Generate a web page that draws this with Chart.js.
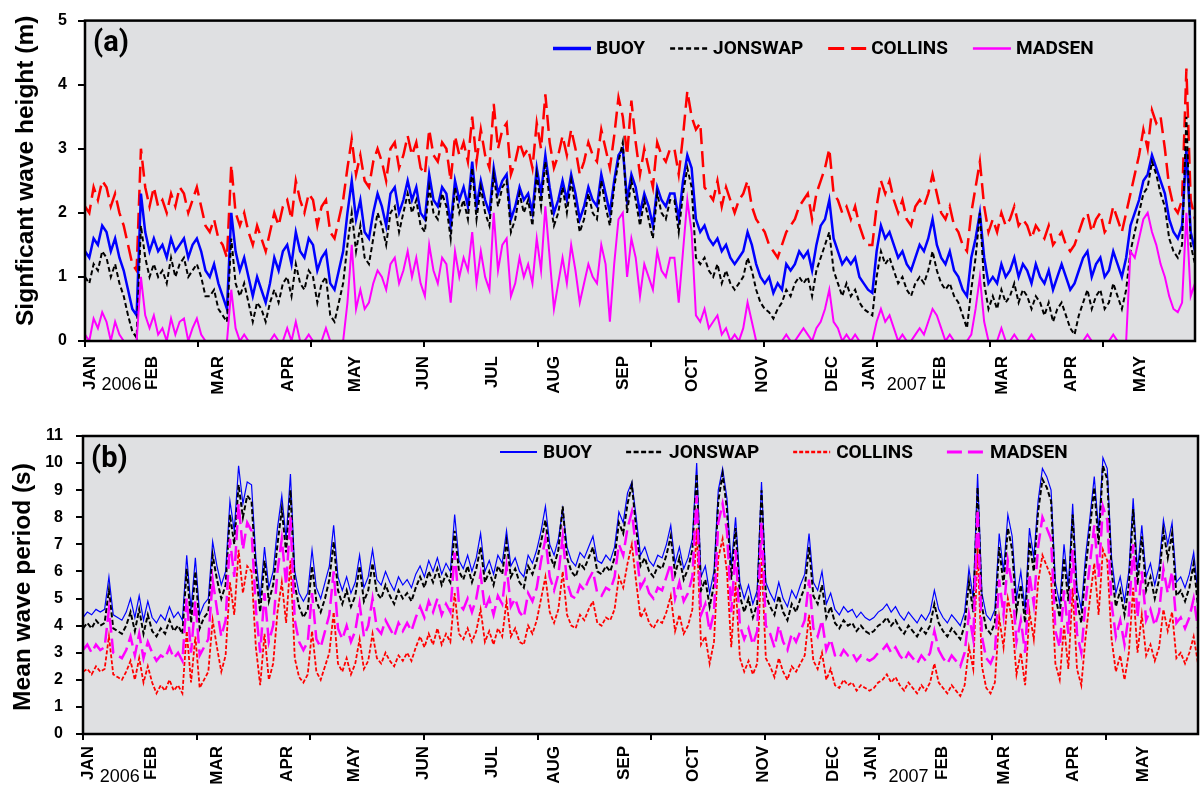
<!DOCTYPE html>
<html>
<head>
<meta charset="utf-8">
<title>Significant wave height and mean wave period, 2006–2007</title>
<script src="https://cdn.jsdelivr.net/npm/chart.js@4.4.1/dist/chart.umd.min.js"></script>
<style>
  html, body { margin: 0; padding: 0; background: #fff; }
  #wrap { position: relative; width: 1201px; height: 789px; }
  #cA { position: absolute; left: 0; top: 0; }
  #cB { position: absolute; left: 0; top: 400px; }
</style>
</head>
<body>
<div id="wrap">
  <canvas id="cA" width="1201" height="400"></canvas>
  <canvas id="cB" width="1201" height="389"></canvas>
</div>
<script>
// ---- time axis -------------------------------------------------------------
const DAY_STEP = 2;        // sampling interval of every series (days from 1 Jan 2006)
const X_MAX = 516;         // 1 Jan 2006 ... 31 May 2007
const TICK_STEP = 52.6;    // spacing of the x tick marks (days)

const monthLabels = ['JAN','FEB','MAR','APR','MAY','JUN','JUL','AUG','SEP','OCT','NOV','DEC',
                     'JAN','FEB','MAR','APR','MAY'];
const monthDays   = [2.5, 31.5, 62, 94.4, 125.7, 157.5, 189.2, 218, 250.4, 282.5, 315, 347.2,
                     364.6, 397.5, 426.5, 458.5, 490.5];
const yearLabels  = ['2006', '2007'];
const yearDays    = [17, 382];

const seriesNames = ['BUOY', 'JONSWAP', 'COLLINS', 'MADSEN'];

// ---- (a) significant wave height, m ---------------------------------------
const hsBuoy = [
  1.4, 1.3, 1.6, 1.5, 1.8, 1.7, 1.4, 1.6, 1.3, 1.1, 0.8, 0.5, 0.4, 2.3, 1.7, 1.4,   // Jan 2006
  1.6, 1.4, 1.5, 1.3, 1.6, 1.4, 1.5, 1.6, 1.3, 1.5, 1.6, 1.4, 1.1, 1.0,             // Feb
  1.2, 0.9, 0.7, 0.5, 2.0, 1.4, 1.1, 1.3, 1.0, 0.7, 1.0, 0.8, 0.6, 0.9, 1.3,        // Mar
  1.1, 1.4, 1.5, 1.2, 1.7, 1.4, 1.3, 1.6, 1.5, 1.1, 1.3, 1.4, 0.9, 0.8, 1.1,        // Apr
  1.4, 2.0, 2.5, 1.9, 2.2, 1.7, 1.6, 2.0, 2.3, 2.1, 1.8, 2.3, 2.4, 2.0, 2.2, 2.5,   // May
  2.2, 2.4, 2.0, 1.9, 2.6, 2.2, 2.1, 2.4, 2.3, 1.8, 2.5, 2.2, 2.4, 2.1, 2.8,        // Jun
  2.1, 2.5, 2.2, 2.0, 2.7, 2.3, 2.5, 2.6, 1.9, 2.1, 2.4, 2.2, 2.3, 2.0, 2.7,        // Jul
  2.3, 2.9, 2.4, 2.0, 2.2, 2.5, 2.2, 2.6, 2.3, 1.9, 2.1, 2.4, 2.2, 2.1, 2.6, 2.3,   // Aug
  2.0, 2.5, 2.9, 3.0, 2.2, 2.6, 2.4, 2.0, 2.3, 2.1, 1.8, 2.4, 2.2, 2.1, 2.3,        // Sep
  2.3, 1.9, 2.5, 2.9, 2.7, 1.9, 1.7, 1.8, 1.6, 1.5, 1.6, 1.4, 1.5, 1.3, 1.2,        // Oct
  1.3, 1.4, 1.7, 1.5, 1.2, 1.0, 0.9, 1.0, 0.75, 0.9, 0.8, 1.2, 1.1, 1.2, 1.4,       // Nov
  1.3, 1.4, 1.1, 1.5, 1.8, 1.9, 2.2, 1.6, 1.4, 1.2, 1.3, 1.2, 1.3, 1.0, 0.9, 0.8,   // Dec
  0.75, 1.4, 1.8, 1.6, 1.7, 1.5, 1.3, 1.4, 1.2, 1.1, 1.3, 1.5, 1.4, 1.6, 1.9,       // Jan 2007
  1.5, 1.3, 1.2, 1.4, 1.1, 1.0, 0.8, 0.7, 1.3, 1.6, 2.0, 1.3, 0.9, 1.0,             // Feb
  0.9, 1.2, 1.0, 1.1, 1.3, 1.0, 1.2, 1.1, 0.9, 1.2, 1.0, 0.9, 1.1, 0.8, 1.0, 1.2,   // Mar
  1.0, 0.8, 0.9, 1.1, 1.3, 1.4, 1.0, 1.2, 1.3, 1.0, 1.1, 1.4, 1.2, 1.0, 1.3,        // Apr
  1.8, 2.0, 2.2, 2.5, 2.6, 2.9, 2.7, 2.5, 2.3, 1.9, 1.7, 1.6, 1.8, 3.0, 1.7, 1.4    // May
];
const hsJonswap = [
  1.0, 0.9, 1.2, 1.1, 1.4, 1.3, 1.0, 1.2, 0.9, 0.7, 0.4, 0.15, 0.05, 1.8, 1.3, 1.0,
  1.2, 1.0, 1.1, 0.9, 1.3, 1.0, 1.2, 1.3, 1.0, 1.1, 1.2, 1.0, 0.7, 0.7,
  0.8, 0.5, 0.4, 0.3, 1.6, 0.9, 0.7, 0.9, 0.6, 0.3, 0.6, 0.5, 0.3, 0.6, 0.8,
  0.6, 0.9, 1.0, 0.7, 1.2, 0.9, 0.8, 1.1, 1.0, 0.6, 0.9, 1.0, 0.4, 0.3, 0.6,
  0.9, 1.5, 2.0, 1.4, 1.8, 1.3, 1.2, 1.6, 2.0, 1.8, 1.5, 2.0, 2.1, 1.7, 2.0, 2.3,
  2.0, 2.2, 1.8, 1.7, 2.4, 2.0, 1.9, 2.3, 2.1, 1.6, 2.4, 2.0, 2.2, 1.9, 2.7,
  1.9, 2.4, 2.0, 1.8, 2.6, 2.1, 2.4, 2.5, 1.7, 1.9, 2.3, 2.0, 2.2, 1.8, 2.6,
  2.1, 2.8, 2.2, 1.8, 2.0, 2.4, 2.0, 2.5, 2.1, 1.7, 1.9, 2.3, 2.0, 1.9, 2.5, 2.1,
  1.8, 2.4, 2.8, 3.1, 2.0, 2.5, 2.2, 1.8, 2.2, 1.9, 1.6, 2.3, 2.0, 1.9, 2.2,
  2.2, 1.7, 2.3, 2.7, 2.4, 1.3, 1.2, 1.3, 1.1, 1.0, 1.2, 0.9, 1.1, 0.9, 0.8,
  0.9, 1.0, 1.3, 1.1, 0.8, 0.6, 0.5, 0.45, 0.35, 0.5, 0.6, 0.8, 0.7, 0.9, 1.0,
  0.9, 1.0, 0.7, 1.1, 1.3, 1.5, 1.7, 1.1, 0.9, 0.7, 0.9, 0.7, 0.8, 0.6, 0.5, 0.45,
  0.4, 1.0, 1.4, 1.2, 1.3, 1.1, 0.9, 1.0, 0.8, 0.7, 0.9, 1.0, 0.9, 1.1, 1.4,
  1.1, 0.9, 0.8, 0.9, 0.7, 0.6, 0.4, 0.2, 0.8, 1.3, 2.0, 0.9, 0.5, 0.7,
  0.5, 0.8, 0.6, 0.7, 0.9, 0.6, 0.8, 0.7, 0.5, 0.7, 0.6, 0.4, 0.6, 0.3, 0.5, 0.6,
  0.4, 0.2, 0.1, 0.4, 0.6, 0.8, 0.5, 0.7, 0.8, 0.5, 0.6, 0.9, 0.7, 0.5, 0.8,
  1.4, 1.7, 2.0, 2.3, 2.4, 2.8, 2.6, 2.3, 2.1, 1.6, 1.4, 1.3, 1.5, 3.5, 1.5, 1.2
];
const hsCollins = [
  2.1, 2.0, 2.4, 2.2, 2.5, 2.4, 2.1, 2.3, 2.0, 1.8, 1.5, 1.2, 1.1, 3.0, 2.4, 2.1,
  2.4, 2.1, 2.2, 2.0, 2.3, 2.1, 2.4, 2.3, 2.0, 2.2, 2.4, 2.1, 1.8, 1.7,
  1.9, 1.6, 1.5, 1.3, 2.75, 2.0, 1.8, 2.0, 1.7, 1.5, 1.8, 1.6, 1.4, 1.7, 2.0,
  1.8, 2.1, 2.2, 1.9, 2.5, 2.2, 2.0, 2.3, 2.2, 1.8, 2.1, 2.2, 1.7, 1.6, 1.9,
  2.2, 2.7, 3.15, 2.6, 2.9, 2.5, 2.4, 2.8, 3.0, 2.8, 2.5, 3.0, 3.1, 2.7, 2.9, 3.2,
  2.9, 3.1, 2.7, 2.6, 3.3, 2.9, 2.8, 3.1, 3.0, 2.5, 3.2, 2.9, 3.1, 2.8, 3.5,
  2.8, 3.3, 2.9, 2.7, 3.7, 3.0, 3.3, 3.4, 2.6, 2.8, 3.1, 2.9, 3.0, 2.7, 3.4,
  3.0, 3.85, 3.1, 2.7, 2.9, 3.2, 2.9, 3.3, 3.0, 2.6, 2.8, 3.1, 2.9, 2.8, 3.3, 3.0,
  2.7, 3.2, 3.8, 3.5, 2.9, 3.75, 3.1, 2.6, 3.0, 2.7, 2.4, 3.1, 2.9, 2.8, 3.0,
  3.0, 2.6, 3.2, 3.9, 3.5, 3.3, 3.4, 2.4, 2.3, 2.2, 2.5, 2.1, 2.4, 2.2, 2.0,
  2.2, 2.3, 2.5, 2.1, 1.9, 1.8, 1.7, 1.5, 1.4, 1.3, 1.5, 1.7, 1.8, 1.9, 2.1,
  2.2, 2.3, 1.9, 2.3, 2.5, 2.7, 3.0, 2.3, 2.2, 2.0, 2.1, 1.9, 2.1, 1.8, 1.6, 1.5,
  1.5, 2.1, 2.5, 2.3, 2.5, 2.2, 2.0, 2.2, 1.9, 1.8, 2.1, 2.2, 2.1, 2.3, 2.6,
  2.3, 2.0, 1.9, 2.1, 1.8, 1.7, 1.5, 1.4, 2.0, 2.4, 2.8, 2.1, 1.7, 1.9,
  1.7, 2.0, 1.8, 1.9, 2.1, 1.8, 1.9, 1.8, 1.6, 1.8, 1.7, 1.6, 1.8, 1.5, 1.6, 1.7,
  1.5, 1.4, 1.5, 1.7, 1.9, 2.0, 1.7, 1.9, 2.0, 1.7, 1.8, 2.1, 1.9, 1.7, 2.0,
  2.3, 2.6, 2.9, 3.3, 3.0, 3.6, 3.4, 3.5, 3.0, 2.4, 2.1, 2.0, 2.2, 4.25, 2.2, 1.9
];
const hsMadsen = [
  0.1, 0.0, 0.35, 0.2, 0.45, 0.3, 0.0, 0.3, 0.1, 0.0, 0.0, 0.0, 0.0, 1.0, 0.4, 0.2,
  0.4, 0.1, 0.2, 0.0, 0.35, 0.1, 0.3, 0.35, 0.0, 0.2, 0.35, 0.1, 0.0, 0.0,
  0.0, 0.0, 0.0, 0.0, 0.8, 0.2, 0.0, 0.1, 0.0, 0.0, 0.0, 0.0, 0.0, 0.0, 0.1,
  0.0, 0.0, 0.2, 0.0, 0.3, 0.0, 0.0, 0.1, 0.0, 0.0, 0.0, 0.2, 0.0, 0.0, 0.0,
  0.0, 0.6, 1.5, 0.5, 0.8, 0.5, 0.6, 0.9, 1.1, 1.0, 0.8, 1.2, 1.3, 0.9, 1.1, 1.4,
  1.0, 1.3, 0.9, 0.7, 1.5, 1.1, 0.9, 1.3, 1.2, 0.6, 1.4, 1.0, 1.3, 1.1, 1.7,
  0.9, 1.4, 1.0, 0.8, 2.0, 1.1, 1.5, 1.6, 0.7, 0.9, 1.3, 1.0, 1.2, 0.9, 1.6,
  1.1, 2.1, 1.3, 0.5, 0.9, 1.3, 0.9, 1.5, 1.1, 0.6, 0.9, 1.2, 1.0, 0.9, 1.5, 1.2,
  0.3, 1.2, 1.9, 2.0, 1.0, 1.6, 1.3, 0.7, 1.2, 1.0, 0.8, 1.4, 1.1, 1.0, 1.3,
  1.3, 0.6, 1.4, 2.2, 1.7, 0.4, 0.3, 0.5, 0.2, 0.3, 0.4, 0.1, 0.2, 0.0, 0.1,
  0.0, 0.2, 0.6, 0.3, 0.0, 0.0, 0.0, 0.0, 0.0, 0.0, 0.0, 0.1, 0.0, 0.0, 0.1,
  0.2, 0.1, 0.0, 0.2, 0.3, 0.5, 0.8, 0.3, 0.2, 0.0, 0.1, 0.0, 0.1, 0.0, 0.0, 0.0,
  0.0, 0.3, 0.5, 0.3, 0.4, 0.2, 0.0, 0.1, 0.0, 0.0, 0.1, 0.2, 0.1, 0.3, 0.5,
  0.4, 0.2, 0.0, 0.1, 0.0, 0.0, 0.0, 0.0, 0.1, 0.5, 1.0, 0.3, 0.0, 0.0,
  0.0, 0.2, 0.0, 0.0, 0.1, 0.0, 0.0, 0.0, 0.1, 0.0, 0.0, 0.0, 0.0, 0.0, 0.0, 0.0,
  0.0, 0.0, 0.0, 0.0, 0.0, 0.1, 0.0, 0.0, 0.0, 0.0, 0.0, 0.1, 0.0, 0.0, 0.0,
  1.4, 1.3, 1.6, 1.9, 2.0, 1.7, 1.5, 1.2, 1.0, 0.7, 0.5, 0.45, 0.6, 2.0, 0.7, 0.9
];

// ---- (b) mean wave period, s ------------------------------------------------
const tmBuoy = [
  4.3, 4.5, 4.4, 4.6, 4.5, 4.6, 5.8, 4.4, 4.3, 4.2, 4.5, 5.0, 4.3, 5.1, 4.2, 4.9,   // Jan 2006
  4.3, 4.1, 4.4, 4.2, 4.7, 4.3, 4.5, 4.2, 6.6, 4.6, 6.5, 4.4, 4.8, 5.0,             // Feb
  7.1, 6.2, 5.5, 6.0, 8.6, 7.5, 9.9, 8.5, 9.3, 9.2, 6.5, 5.0, 6.9, 5.4, 6.0,        // Mar
  7.6, 8.8, 7.2, 9.6, 6.0, 5.2, 4.9, 5.2, 6.8, 5.4, 5.0, 5.6, 6.2, 7.7, 5.8,        // Apr
  5.3, 5.8, 5.2, 5.6, 6.6, 5.4, 5.8, 6.8, 5.7, 5.5, 6.0, 5.6, 5.3, 5.8, 5.5, 5.7,   // May
  5.4, 5.9, 6.2, 5.8, 6.4, 6.0, 6.5, 5.9, 6.3, 6.0, 8.1, 6.4, 6.1, 6.6, 6.0,        // Jun
  6.5, 7.4, 6.0, 6.4, 5.9, 6.6, 6.3, 7.5, 6.2, 6.5, 6.0, 5.8, 6.6, 6.3, 6.8,        // Jul
  7.5, 8.4, 7.0, 6.6, 7.2, 8.3, 6.9, 6.4, 6.2, 6.7, 6.5, 6.9, 7.3, 6.4, 6.3, 6.6,   // Aug
  6.4, 6.9, 8.2, 7.8, 8.9, 9.3, 8.0, 6.6, 6.9, 6.4, 6.2, 6.6, 6.5, 7.0, 7.7,        // Sep
  6.3, 6.9, 6.1, 6.5, 7.2, 10.0, 5.8, 6.2, 5.2, 6.0, 9.0, 9.8, 8.7, 6.2, 8.0,       // Oct
  5.6, 5.0, 5.5, 4.8, 5.3, 9.3, 5.6, 5.2, 4.9, 5.6, 5.0, 4.7, 5.3, 5.0, 5.5,        // Nov
  5.9, 7.4, 5.6, 5.3, 6.0, 4.8, 5.2, 4.6, 4.4, 4.7, 4.5, 4.6, 4.3, 4.5, 4.3, 4.2,   // Dec
  4.3, 4.5, 4.6, 4.8, 4.5, 4.7, 4.4, 4.2, 4.5, 4.3, 4.1, 4.4, 4.2, 4.5, 5.3,        // Jan 2007
  4.6, 4.3, 4.1, 4.4, 4.2, 4.0, 4.5, 6.1, 5.0, 9.6, 5.2, 4.4, 4.2, 4.6,             // Feb
  7.4, 6.0, 8.1, 7.3, 5.0, 6.0, 4.6, 7.6, 6.5, 8.6, 9.8, 9.5, 9.0, 5.6, 4.8, 7.0,   // Mar
  5.4, 8.5, 5.4, 4.6, 6.6, 8.0, 9.5, 7.5, 10.2, 9.8, 6.5, 5.2, 5.8, 4.9, 6.0,       // Apr
  8.7, 6.0, 7.7, 5.8, 6.3, 5.5, 6.2, 7.9, 7.0, 7.8, 5.6, 5.8, 5.4, 5.9, 6.7, 5.2    // May
];
const tmJonswap = [
  3.9, 4.1, 3.9, 4.2, 4.0, 4.1, 5.3, 3.9, 3.8, 3.7, 4.0, 4.5, 3.8, 4.6, 3.7, 4.4,
  3.8, 3.6, 3.9, 3.7, 4.2, 3.8, 4.0, 3.7, 6.1, 4.1, 6.0, 3.9, 4.3, 4.5,
  6.6, 5.7, 5.0, 5.5, 8.1, 7.0, 9.2, 8.0, 8.8, 8.6, 6.0, 4.5, 6.4, 4.9, 5.5,
  7.0, 8.3, 6.7, 9.0, 5.5, 4.7, 4.3, 4.6, 6.2, 4.9, 4.5, 5.0, 5.7, 7.1, 5.3,
  4.8, 5.3, 4.7, 5.1, 6.2, 4.9, 5.3, 6.3, 5.2, 5.0, 5.5, 5.1, 4.8, 5.3, 5.0, 5.2,
  4.9, 5.4, 5.8, 5.4, 6.0, 5.6, 6.1, 5.5, 5.9, 5.6, 7.5, 6.0, 5.7, 6.2, 5.6,
  6.1, 6.9, 5.6, 6.0, 5.5, 6.2, 5.9, 7.1, 5.8, 6.1, 5.6, 5.4, 6.2, 5.9, 6.4,
  7.1, 7.9, 6.6, 6.2, 6.8, 8.4, 6.5, 6.0, 5.8, 6.3, 6.1, 6.5, 6.9, 6.0, 5.9, 6.2,
  6.0, 6.5, 7.8, 7.4, 8.5, 9.2, 7.6, 6.2, 6.5, 6.0, 5.8, 6.2, 6.1, 6.6, 7.3,
  5.9, 6.5, 5.7, 6.1, 6.8, 9.6, 5.3, 5.7, 4.7, 5.5, 8.6, 9.6, 8.3, 5.7, 7.6,
  5.1, 4.5, 5.0, 4.3, 4.8, 9.0, 5.1, 4.7, 4.4, 5.1, 4.5, 4.2, 4.8, 4.5, 5.0,
  5.4, 6.9, 5.1, 4.8, 5.5, 4.3, 4.7, 4.1, 3.9, 4.2, 4.0, 4.1, 3.8, 4.0, 3.8, 3.7,
  3.8, 4.0, 4.1, 4.3, 4.0, 4.2, 3.9, 3.7, 4.0, 3.8, 3.6, 3.9, 3.7, 4.0, 4.8,
  4.1, 3.8, 3.6, 3.9, 3.7, 3.5, 4.0, 5.6, 4.5, 9.1, 4.7, 3.9, 3.7, 4.1,
  6.9, 5.5, 7.6, 6.8, 4.5, 5.5, 4.1, 7.1, 6.0, 8.2, 9.4, 9.1, 8.6, 5.1, 4.3, 6.5,
  4.9, 8.1, 4.9, 4.1, 6.1, 7.6, 9.1, 7.0, 9.9, 9.4, 6.0, 4.7, 5.3, 4.4, 5.5,
  8.3, 5.5, 7.3, 5.3, 5.8, 5.0, 5.7, 7.5, 6.5, 7.4, 5.1, 5.3, 4.9, 5.4, 6.3, 4.7
];
const tmCollins = [
  2.3, 2.4, 2.2, 2.5, 2.3, 2.4, 3.6, 2.2, 2.1, 2.0, 2.3, 2.7, 2.0, 2.8, 1.9, 2.5,
  1.9, 1.5, 1.8, 1.6, 2.0, 1.6, 1.8, 1.5, 3.8, 1.9, 3.6, 1.7, 2.0, 2.3,
  4.2, 3.2, 2.3, 2.9, 5.6, 4.4, 6.8, 5.2, 6.2, 6.0, 3.2, 1.8, 3.7, 2.0, 2.6,
  4.5, 5.6, 4.1, 6.4, 2.8, 2.1, 1.9, 2.2, 3.8, 2.3, 2.0, 2.5, 3.0, 4.5, 2.6,
  2.3, 2.8, 2.2, 2.6, 3.5, 2.4, 2.7, 3.7, 2.8, 2.6, 3.0, 2.7, 2.5, 2.9, 2.7, 3.0,
  2.7, 3.2, 3.6, 3.2, 3.7, 3.3, 3.9, 3.3, 3.7, 3.4, 5.2, 3.7, 3.5, 3.9, 3.4,
  3.8, 4.6, 3.4, 3.8, 3.3, 3.9, 3.6, 4.9, 3.6, 3.9, 3.4, 3.3, 4.0, 3.7, 4.2,
  5.0, 5.8, 4.5, 4.1, 4.6, 6.0, 4.4, 4.0, 3.9, 4.4, 4.2, 4.6, 4.9, 4.1, 4.0, 4.3,
  4.2, 4.6, 5.8, 5.4, 6.3, 7.0, 5.6, 4.3, 4.6, 4.1, 3.9, 4.2, 4.1, 4.5, 5.1,
  3.8, 4.4, 3.7, 4.0, 4.6, 7.6, 3.3, 3.6, 2.6, 3.4, 6.5, 7.2, 6.0, 3.2, 5.6,
  2.8, 2.3, 2.7, 2.2, 2.6, 6.5, 2.8, 2.5, 2.1, 2.8, 2.3, 2.0, 2.5, 2.3, 2.6,
  2.9, 4.4, 2.7, 2.4, 3.0, 2.0, 2.4, 1.8, 1.7, 2.0, 1.8, 1.9, 1.6, 1.8, 1.7, 1.6,
  1.7, 1.9, 2.0, 2.2, 1.9, 2.1, 1.8, 1.6, 1.9, 1.7, 1.5, 1.8, 1.6, 1.9, 2.6,
  1.9, 1.7, 1.5, 1.8, 1.6, 1.4, 1.8, 3.2, 2.4, 6.9, 2.5, 1.7, 1.5, 1.9,
  4.3, 3.2, 5.0, 4.2, 2.2, 3.0, 1.8, 4.5, 3.5, 5.6, 6.6, 6.2, 5.8, 2.6, 2.0, 4.0,
  2.4, 5.4, 2.4, 1.8, 3.6, 5.0, 6.3, 4.4, 6.8, 6.4, 3.5, 2.3, 2.9, 2.0, 3.0,
  5.4, 3.0, 4.4, 2.9, 3.3, 2.7, 3.2, 4.6, 3.8, 4.5, 2.8, 3.0, 2.6, 3.0, 3.6, 2.6
];
const tmMadsen = [
  3.1, 3.3, 3.0, 3.3, 3.1, 3.2, 4.6, 3.0, 2.9, 2.8, 3.1, 3.6, 2.9, 3.7, 2.8, 3.4,
  3.0, 2.7, 2.9, 2.8, 3.2, 2.8, 3.0, 2.7, 5.0, 3.0, 4.9, 2.9, 3.2, 3.5,
  5.7, 4.6, 3.6, 4.2, 7.2, 5.8, 8.5, 6.8, 7.8, 7.5, 4.6, 3.0, 5.2, 3.4, 4.0,
  6.0, 7.2, 5.5, 8.0, 4.2, 3.4, 3.1, 3.4, 5.2, 3.5, 3.2, 3.8, 4.4, 6.0, 3.9,
  3.5, 4.0, 3.4, 3.8, 4.8, 3.6, 4.0, 5.0, 3.9, 3.7, 4.2, 3.9, 3.6, 4.1, 3.8, 4.1,
  3.8, 4.3, 4.7, 4.3, 4.9, 4.5, 5.0, 4.4, 4.8, 4.5, 6.7, 4.8, 4.6, 5.0, 4.5,
  5.0, 5.9, 4.6, 5.0, 4.4, 5.1, 4.8, 6.2, 4.7, 5.0, 4.5, 4.3, 5.2, 4.9, 5.4,
  6.4, 7.2, 5.8, 5.3, 5.9, 7.3, 5.6, 5.1, 5.0, 5.5, 5.3, 5.7, 6.0, 5.2, 5.1, 5.4,
  5.3, 5.8, 7.0, 6.6, 7.6, 8.2, 6.8, 5.4, 5.7, 5.2, 5.0, 5.4, 5.3, 5.8, 6.3,
  5.0, 5.6, 4.9, 5.2, 5.8, 8.8, 4.4, 4.8, 3.8, 4.5, 7.8, 8.5, 7.5, 4.5, 6.8,
  4.0, 3.5, 3.9, 3.3, 3.8, 7.8, 4.0, 3.7, 3.2, 4.0, 3.4, 3.1, 3.7, 3.4, 3.8,
  4.2, 5.7, 3.9, 3.6, 4.2, 3.1, 3.5, 2.9, 2.8, 3.1, 2.9, 3.0, 2.7, 2.9, 2.8, 2.7,
  2.8, 3.0, 3.1, 3.3, 3.0, 3.2, 2.9, 2.7, 3.0, 2.8, 2.6, 2.9, 2.7, 3.0, 3.8,
  3.1, 2.8, 2.6, 2.9, 2.7, 2.5, 3.0, 4.4, 3.5, 8.3, 3.6, 2.8, 2.6, 3.0,
  5.7, 4.4, 6.4, 5.5, 3.4, 4.2, 3.0, 5.9, 4.8, 6.9, 8.0, 7.6, 7.2, 3.8, 3.2, 5.3,
  3.7, 6.8, 3.7, 3.0, 4.9, 6.3, 7.7, 5.8, 8.4, 7.9, 4.8, 3.6, 4.2, 3.3, 4.4,
  7.0, 4.3, 6.0, 4.2, 4.6, 4.0, 4.5, 6.1, 5.2, 6.0, 4.1, 4.3, 3.9, 4.3, 5.0, 3.9
];

// ---- helpers ---------------------------------------------------------------
const toPoints = vals => vals.map((v, i) => ({ x: i * DAY_STEP, y: v }));
const BOLD_SANS = '"Liberation Sans", Arial, Helvetica, sans-serif';

// Background, frame, panel tag, axis title, month/year labels and legend.
const panelDecor = {
  id: 'panelDecor',
  beforeDraw(chart, args, o) {
    const { ctx, chartArea: a } = chart;
    ctx.save();
    ctx.fillStyle = o.bg;
    ctx.fillRect(a.left, a.top, a.right - a.left, a.bottom - a.top);
    ctx.restore();
  },
  afterDraw(chart, args, o) {
    const { ctx, chartArea: a, scales } = chart;
    ctx.save();

    // frame round the plot area
    ctx.strokeStyle = '#000';
    ctx.lineWidth = o.frameWidth;
    ctx.strokeRect(a.left, a.top, a.right - a.left, a.bottom - a.top);

    // panel tag
    ctx.fillStyle = '#000';
    ctx.font = 'bold 29px Roboto, sans-serif';
    ctx.textAlign = 'left';
    ctx.textBaseline = 'top';
    ctx.fillText(o.tag, a.left + 8, a.top + o.tagDy);

    // y-axis title
    ctx.save();
    ctx.translate(o.titleX, (a.top + a.bottom) / 2 + o.titleDy);
    ctx.rotate(-Math.PI / 2);
    ctx.font = 'bold 24.5px ' + BOLD_SANS;
    ctx.textAlign = 'center';
    ctx.textBaseline = 'middle';
    ctx.fillText(o.title, 0, 0);
    ctx.restore();

    // month names, rotated, hanging below the axis
    ctx.font = 'bold 17px ' + BOLD_SANS;
    monthLabels.forEach((m, i) => {
      const x = scales.x.getPixelForValue(monthDays[i]);
      ctx.save();
      ctx.translate(x, a.bottom + o.monthGap);
      ctx.rotate(-Math.PI / 2);
      ctx.textAlign = 'right';
      ctx.textBaseline = 'middle';
      ctx.fillText(m, 0, 0);
      ctx.restore();
    });

    // years
    ctx.font = '18px ' + BOLD_SANS;
    ctx.textAlign = 'center';
    ctx.textBaseline = 'middle';
    yearLabels.forEach((y, i) => {
      ctx.fillText(y, scales.x.getPixelForValue(yearDays[i]), a.bottom + o.yearGap);
    });

    // legend inside the plot area
    let x = a.left + o.legendX;
    const y = a.top + o.legendY;
    ctx.font = 'bold 19px Roboto, sans-serif';
    ctx.textAlign = 'left';
    ctx.textBaseline = 'middle';
    chart.data.datasets.forEach(ds => {
      ctx.save();
      ctx.strokeStyle = ds.borderColor;
      ctx.lineWidth = ds.keyWidth || ds.borderWidth;
      ctx.setLineDash(ds.borderDash || []);
      ctx.beginPath();
      ctx.moveTo(x, y);
      ctx.lineTo(x + o.sampleLen, y);
      ctx.stroke();
      ctx.restore();
      x += o.sampleLen + o.textGap;
      ctx.fillText(ds.label, x, y + 1);
      x += ctx.measureText(ds.label).width + o.itemGap;
    });

    ctx.restore();
  }
};

function makeScales(yMax, yWidth, xHeight, labelPad) {
  return {
    x: {
      type: 'linear', min: 0, max: X_MAX,
      afterBuildTicks: s => {
        const t = [];
        for (let v = 0; v <= X_MAX; v += TICK_STEP) t.push({ value: v });
        s.ticks = t;
      },
      ticks: { callback: () => '', autoSkip: false },
      grid: { drawOnChartArea: false, drawTicks: true, tickLength: 6, color: '#000', lineWidth: 2 },
      border: { display: false },
      afterFit: s => { s.height = xHeight; }
    },
    y: {
      min: 0, max: yMax,
      ticks: { stepSize: 1, color: '#000', padding: labelPad,
               font: { family: BOLD_SANS, size: 16, weight: 'bold' } },
      grid: { drawOnChartArea: false, drawTicks: true, tickLength: 7, color: '#000', lineWidth: 2 },
      border: { display: false },
      afterFit: s => { s.width = yWidth; }
    }
  };
}

const common = {
  responsive: false,
  animation: false,
  devicePixelRatio: 1,
  elements: { point: { radius: 0 }, line: { tension: 0 } },
  events: []
};

// ---- (a) -------------------------------------------------------------------
new Chart(document.getElementById('cA'), {
  type: 'line',
  data: {
    datasets: [
      { label: seriesNames[0], data: toPoints(hsBuoy),    borderColor: '#0000ff', borderWidth: 2.5, keyWidth: 3.5, order: 2 },
      { label: seriesNames[1], data: toPoints(hsJonswap), borderColor: '#000000', borderWidth: 2,   keyWidth: 2.5, borderDash: [5, 3], order: 1 },
      { label: seriesNames[2], data: toPoints(hsCollins), borderColor: '#ff0000', borderWidth: 2.5, keyWidth: 3, borderDash: [16, 7], order: 3 },
      { label: seriesNames[3], data: toPoints(hsMadsen),  borderColor: '#ff00ff', borderWidth: 2,   keyWidth: 2.5, order: 0 }
    ]
  },
  options: Object.assign({}, common, {
    layout: { padding: { left: 0, right: 6, top: 17, bottom: 0 } },
    scales: makeScales(5, 85, 59, 11),
    plugins: {
      legend: { display: false },
      tooltip: { enabled: false },
      panelDecor: {
        bg: '#dfe0e2', frameWidth: 2.5, tag: '(a)', tagDy: 9,
        title: 'Signficant wave height (m)', titleX: 26, titleDy: -10,
        monthGap: 15, yearGap: 44,
        legendX: 468, legendY: 28, sampleLen: 38, textGap: 5, itemGap: 25
      }
    }
  }),
  plugins: [panelDecor]
});

// ---- (b) -------------------------------------------------------------------
new Chart(document.getElementById('cB'), {
  type: 'line',
  data: {
    datasets: [
      { label: seriesNames[0], data: toPoints(tmBuoy),    borderColor: '#0000ff', borderWidth: 1.2, keyWidth: 2, order: 3 },
      { label: seriesNames[1], data: toPoints(tmJonswap), borderColor: '#000000', borderWidth: 2,   keyWidth: 2.5, borderDash: [5, 2.5], order: 2 },
      { label: seriesNames[2], data: toPoints(tmCollins), borderColor: '#ff0000', borderWidth: 1.8, keyWidth: 2.5, borderDash: [4, 2], order: 1 },
      { label: seriesNames[3], data: toPoints(tmMadsen),  borderColor: '#ff00ff', borderWidth: 2.5, keyWidth: 3, borderDash: [15, 6], order: 0 }
    ]
  },
  options: Object.assign({}, common, {
    layout: { padding: { left: 0, right: 3, top: 36, bottom: 0 } },
    scales: makeScales(11, 83, 55, 13),
    plugins: {
      legend: { display: false },
      tooltip: { enabled: false },
      panelDecor: {
        bg: '#dfe0e2', frameWidth: 2.5, tag: '(b)', tagDy: 9,
        title: 'Mean wave period (s)', titleX: 23, titleDy: 2,
        monthGap: 12, yearGap: 43,
        legendX: 417, legendY: 16, sampleLen: 37, textGap: 6, itemGap: 34
      }
    }
  }),
  plugins: [panelDecor]
});
</script>
</body>
</html>
